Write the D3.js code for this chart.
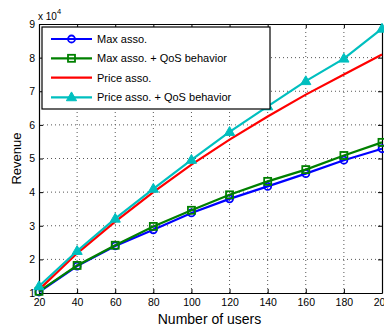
<!DOCTYPE html>
<html>
<head>
<meta charset="utf-8">
<script src="https://cdn.jsdelivr.net/npm/d3@7"></script>
<style>
  body { margin: 0; background: #fff; }
  text { font-family: "Liberation Sans", Arial, sans-serif; }
</style>
</head>
<body>
<div id="chart"></div>
<script>
// Data (revenue in units of 10^4)
let users = [20, 40, 60, 80, 100, 120, 140, 160, 180, 200];
let maxAsso = [1.03, 1.80, 2.40, 2.88, 3.38, 3.80, 4.17, 4.55, 4.95, 5.29];
let maxAssoQos = [1.05, 1.82, 2.42, 2.98, 3.46, 3.92, 4.32, 4.67, 5.09, 5.48];
let priceAsso = [1.10, 2.18, 3.12, 4.00, 4.82, 5.56, 6.25, 6.90, 7.50, 8.09];
let priceAssoQos = [1.20, 2.25, 3.21, 4.10, 4.96, 5.79, 6.55, 7.30, 7.97, 8.86];
let xTicks = [20, 40, 60, 80, 100, 120, 140, 160, 180, 200];
let yTicks = [1, 2, 3, 4, 5, 6, 7, 8, 9];

let series = [
  { name: "Max asso.", values: maxAsso, color: "#0000ff", marker: "circle" },
  { name: "Max asso. + QoS behavior", values: maxAssoQos, color: "#008000", marker: "square" },
  { name: "Price asso.", values: priceAsso, color: "#ff0000", marker: "none" },
  { name: "Price asso. + QoS behavior", values: priceAssoQos, color: "#00bfbf", marker: "triangle" }
];

let W = 384, H = 327;
let pLeft = 39, pRight = 382, pTop = 24, pBottom = 293;

let svg = d3.select("#chart").append("svg")
    .attr("width", W)
    .attr("height", H);

let x = d3.scaleLinear().domain([20, 200]).range([pLeft, pRight]);
let y = d3.scaleLinear().domain([1, 9]).range([pBottom, pTop]);

// Dotted grid
let grid = svg.append("g");
xTicks.slice(1, -1).forEach(function(t) {
  grid.append("line")
    .attr("x1", x(t)).attr("x2", x(t))
    .attr("y1", pTop).attr("y2", pBottom)
    .attr("stroke", "#555").attr("stroke-width", 1)
    .attr("stroke-dasharray", "1,3");
});
yTicks.slice(1, -1).forEach(function(t) {
  grid.append("line")
    .attr("x1", pLeft).attr("x2", pRight)
    .attr("y1", y(t)).attr("y2", y(t))
    .attr("stroke", "#555").attr("stroke-width", 1)
    .attr("stroke-dasharray", "1,3");
});

// Axes (MATLAB style, ticks inside)
let tickLen = 4;
let xAxis = svg.append("g")
    .attr("transform", "translate(0," + pBottom + ")")
    .call(d3.axisBottom(x).tickValues(xTicks).tickSizeInner(-tickLen).tickSizeOuter(0).tickPadding(6));
let yAxis = svg.append("g")
    .attr("transform", "translate(" + pLeft + ",0)")
    .call(d3.axisLeft(y).tickValues(yTicks).tickSizeInner(-tickLen).tickSizeOuter(0).tickPadding(4));
let xTop = svg.append("g")
    .attr("transform", "translate(0," + pTop + ")")
    .call(d3.axisTop(x).tickValues(xTicks).tickSizeInner(-tickLen).tickSizeOuter(0).tickFormat(""));
let yRight = svg.append("g")
    .attr("transform", "translate(" + pRight + ",0)")
    .call(d3.axisRight(y).tickValues(yTicks).tickSizeInner(-tickLen).tickSizeOuter(0).tickFormat(""));

[xAxis, yAxis, xTop, yRight].forEach(function(a) {
  a.select(".domain").attr("stroke", "#000").attr("stroke-width", 1.2);
  a.selectAll(".tick line").attr("stroke", "#000");
  a.selectAll(".tick text")
    .attr("fill", "#000")
    .style("font-family", "Liberation Sans, Arial, sans-serif")
    .style("font-size", "10.5px");
});

// Exponent label
let expo = svg.append("text")
    .attr("x", 38).attr("y", 20)
    .style("font-size", "10px")
    .text("x 10");
expo.append("tspan")
    .attr("dy", -6)
    .style("font-size", "7.5px")
    .text("4");

// Axis titles
svg.append("text")
    .attr("x", (pLeft + pRight) / 2 - 1).attr("y", 324)
    .attr("text-anchor", "middle")
    .style("font-size", "14px")
    .text("Number of users");
svg.append("text")
    .attr("transform", "translate(21," + ((pTop + pBottom) / 2) + ") rotate(-90)")
    .attr("text-anchor", "middle")
    .style("font-size", "13px")
    .text("Revenue");

// Lines
let line = d3.line()
    .x(function(d, i) { return x(users[i]); })
    .y(function(d) { return y(d); });

function drawMarker(g, type, cx, cy, color) {
  if (type === "circle") {
    g.append("circle").attr("cx", cx).attr("cy", cy).attr("r", 3.5)
      .attr("fill", "none").attr("stroke", color).attr("stroke-width", 1.8);
  } else if (type === "square") {
    g.append("rect").attr("x", cx - 3.5).attr("y", cy - 3.5)
      .attr("width", 7).attr("height", 7)
      .attr("fill", "none").attr("stroke", color).attr("stroke-width", 1.8);
  } else if (type === "triangle") {
    g.append("path")
      .attr("d", d3.symbol().type(d3.symbolTriangle).size(45)())
      .attr("transform", "translate(" + cx + "," + (cy + 0.5) + ")")
      .attr("fill", color).attr("stroke", color).attr("stroke-width", 1);
  }
}

let plot = svg.append("g");
series.forEach(function(s) {
  plot.append("path")
    .datum(s.values)
    .attr("d", line)
    .attr("fill", "none")
    .attr("stroke", s.color)
    .attr("stroke-width", 2.2);
  s.values.forEach(function(v, i) {
    drawMarker(plot, s.marker, x(users[i]), y(v), s.color);
  });
});

// Legend
let lg = svg.append("g");
lg.append("rect")
    .attr("x", 42).attr("y", 27)
    .attr("width", 228).attr("height", 82)
    .attr("fill", "#fff").attr("stroke", "#000").attr("stroke-width", 1.2);
let rowY = [39, 58.3, 77.7, 97.3];
series.forEach(function(s, i) {
  lg.append("line")
    .attr("x1", 51).attr("x2", 92)
    .attr("y1", rowY[i]).attr("y2", rowY[i])
    .attr("stroke", s.color).attr("stroke-width", 2.2);
  drawMarker(lg, s.marker, 71.5, rowY[i], s.color);
  lg.append("text")
    .attr("x", 97).attr("y", rowY[i] + 4)
    .style("font-size", "11px")
    .text(s.name);
});
</script>
</body>
</html>
